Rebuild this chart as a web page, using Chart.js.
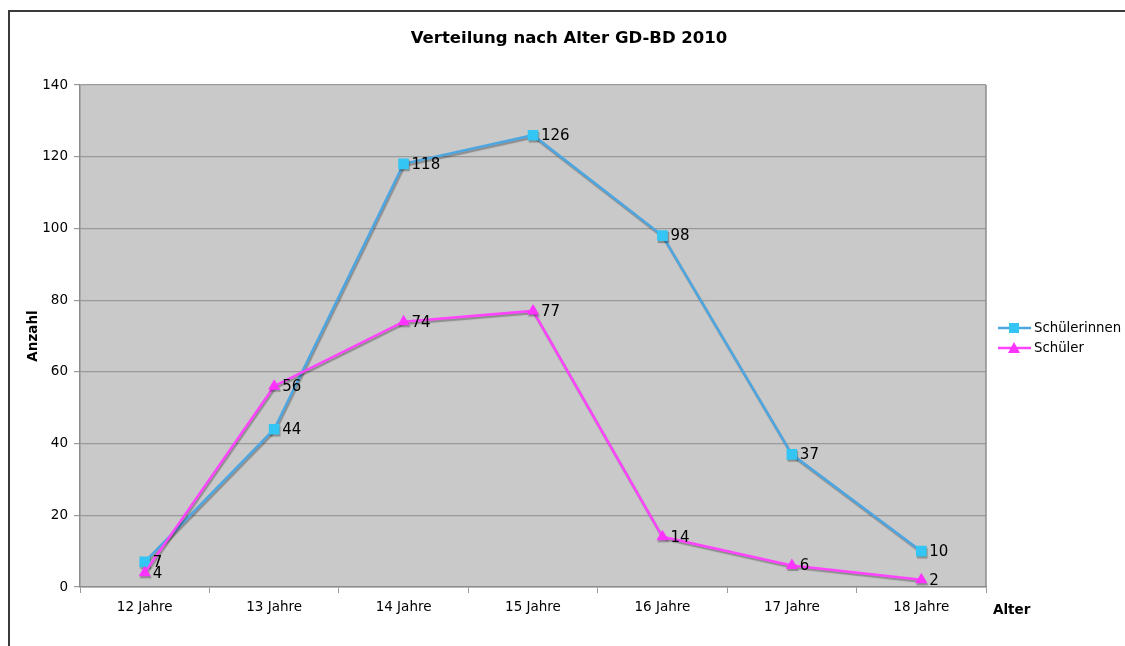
<!DOCTYPE html>
<html>
<head>
<meta charset="utf-8">
<script src="https://cdn.jsdelivr.net/npm/chart.js@4"></script>
<style>
html,body{margin:0;padding:0;background:#fff;}
#wrap{position:absolute;left:0;top:0;width:1125px;height:646px;}
</style>
</head>
<body>
<div id="wrap"><canvas id="c" width="1125" height="646"></canvas></div>
<script>
const categories = ['12 Jahre','13 Jahre','14 Jahre','15 Jahre','16 Jahre','17 Jahre','18 Jahre'];
const schuelerinnen = [7,44,118,126,98,37,10];
const schueler = [4,56,74,77,14,6,2];
const seriesNames = ['Schülerinnen','Schüler'];
const titleText = 'Verteilung nach Alter GD-BD 2010';
const yTitle = 'Anzahl';
const xTitle = 'Alter';

const FONT = '"DejaVu Sans", Verdana, sans-serif';
const lineColors = ['#4ea6e0','#ff44ff'];
const markerColors = ['#33c6f5','#ff33ff'];

const decor = {
  id:'decor',
  beforeDraw(chart){
    const {ctx, chartArea:a} = chart;
    ctx.save();
    ctx.fillStyle='#fff';
    ctx.fillRect(0,0,chart.width,chart.height);
    ctx.strokeStyle='#3a3a3a';
    ctx.lineWidth=2;
    ctx.beginPath();
    ctx.moveTo(9,chart.height);
    ctx.lineTo(9,11);
    ctx.lineTo(chart.width,11);
    ctx.stroke();
    ctx.fillStyle='#c9c9c9';
    ctx.fillRect(a.left,a.top,a.right-a.left,a.bottom-a.top);
    ctx.restore();
  },
  afterDraw(chart){
    const {ctx, chartArea:a} = chart;
    ctx.save();
    ctx.strokeStyle='#8c8c8c';
    ctx.lineWidth=1.5;
    ctx.beginPath();
    ctx.moveTo(a.right,a.top);
    ctx.lineTo(a.right,a.bottom);
    ctx.stroke();
    ctx.fillStyle='#000';
    ctx.font='bold 16.5px '+FONT;
    ctx.textAlign='center';
    ctx.textBaseline='middle';
    ctx.fillText(titleText,569,39);
    ctx.font='bold 13.5px '+FONT;
    ctx.textAlign='left';
    ctx.fillText(xTitle,993,610);
    ctx.save();
    ctx.translate(33,336);
    ctx.rotate(-Math.PI/2);
    ctx.textAlign='center';
    ctx.fillText(yTitle,0,0);
    ctx.restore();
    ctx.font='15px '+FONT;
    ctx.textAlign='left';
    ctx.textBaseline='middle';
    chart.data.datasets.forEach((ds,i)=>{
      const meta=chart.getDatasetMeta(i);
      meta.data.forEach((pt,j)=>{
        ctx.fillText(String(ds.data[j]),pt.x+8,pt.y+1);
      });
    });
    const ly=[328,348];
    ctx.font='13.3px '+FONT;
    seriesNames.forEach((name,i)=>{
      const y=ly[i];
      ctx.strokeStyle=lineColors[i];
      ctx.lineWidth=2.5;
      ctx.beginPath();
      ctx.moveTo(998,y);ctx.lineTo(1031,y);ctx.stroke();
      ctx.fillStyle=markerColors[i];
      if(i===0){
        ctx.fillRect(1009,y-5,10,10);
      } else {
        ctx.beginPath();
        ctx.moveTo(1014,y-6);ctx.lineTo(1020,y+5);ctx.lineTo(1008,y+5);ctx.closePath();ctx.fill();
      }
      ctx.fillStyle='#000';
      ctx.fillText(name,1034,y+1);
    });
    ctx.restore();
  },
  beforeDatasetDraw(chart){
    const ctx=chart.ctx;
    ctx.save();
    ctx.shadowColor='rgba(0,0,0,0.3)';
    ctx.shadowOffsetX=1;
    ctx.shadowOffsetY=2;
    ctx.shadowBlur=1;
  },
  afterDatasetDraw(chart){
    chart.ctx.restore();
  }
};

new Chart(document.getElementById('c'),{
  type:'line',
  data:{
    labels:categories,
    datasets:[
      {label:seriesNames[0],data:schuelerinnen,borderColor:lineColors[0],backgroundColor:markerColors[0],
       pointBackgroundColor:markerColors[0],pointBorderColor:markerColors[0],pointBorderWidth:0,pointStyle:'rect',pointRadius:7.5,
       borderWidth:2.5,tension:0,order:2},
      {label:seriesNames[1],data:schueler,borderColor:lineColors[1],backgroundColor:markerColors[1],
       pointBackgroundColor:markerColors[1],pointBorderColor:markerColors[1],pointBorderWidth:0,pointStyle:'triangle',pointRadius:7,
       borderWidth:2.5,tension:0,order:1}
    ]
  },
  options:{
    responsive:false,
    animation:false,
    devicePixelRatio:1,
    layout:{padding:{left:0,right:139,top:85,bottom:0}},
    plugins:{legend:{display:false},title:{display:false},tooltip:{enabled:false}},
    scales:{
      x:{
        offset:true,
        grid:{drawOnChartArea:false,drawTicks:true,tickLength:6,color:'#9a9a9a',offset:true},
        border:{display:true,color:'#8c8c8c',width:1.5},
        ticks:{color:'#000',font:{family:FONT,size:13.5},padding:6,maxRotation:0},
        afterFit(s){s.height=59;}
      },
      y:{
        min:0,max:140,
        grid:{color:'#9a9a9a',lineWidth:1.2,drawTicks:true,tickLength:6},
        border:{display:true,color:'#8c8c8c',width:1.5},
        ticks:{stepSize:20,color:'#000',font:{family:FONT,size:13.5},padding:6},
        afterFit(s){s.width=80;}
      }
    }
  },
  plugins:[decor]
});
</script>
</body>
</html>
